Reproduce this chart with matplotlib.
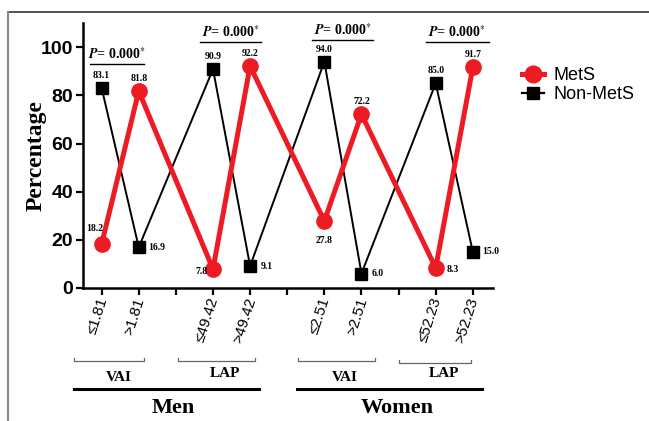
import matplotlib
matplotlib.use("Agg")
import matplotlib.pyplot as plt
import matplotlib.transforms as mtransforms
from matplotlib.lines import Line2D

# values
positions = [1, 2, 4, 5, 7, 8, 10, 11]
tick_labels = ["\u22641.81", ">1.81", "\u226449.42", ">49.42",
               "\u22642.51", ">2.51", "\u226452.23", ">52.23"]
mets = [18.2, 81.8, 7.8, 92.2, 27.8, 72.2, 8.3, 91.7]
non_mets = [83.1, 16.9, 90.9, 9.1, 94.0, 6.0, 85.0, 15.0]
p_labels = ["0.000", "0.000", "0.000", "0.000"]
index_names = ["VAI", "LAP", "VAI", "LAP"]
sex_names = ["Men", "Women"]

RED = "#ED1C24"
SERIF = "Liberation Serif"
SANS = "Liberation Sans"
plt.rcParams["mathtext.fontset"] = "stix"

fig = plt.figure(figsize=(6.49, 4.21), dpi=100)
ax = fig.add_axes([0.128, 0.316, 0.632, 0.629])

ax.plot(positions, non_mets, color="black", lw=1.4, marker="s", ms=9, zorder=3)
ax.plot(positions, mets, color=RED, lw=3.6, marker="o", ms=11, zorder=4)

ax.set_xlim(0.5, 11.55)
ax.set_ylim(0, 110)
ax.set_yticks([0, 20, 40, 60, 80, 100])
ax.set_xticks([1, 2, 3, 4, 5, 6, 7, 8, 9, 10, 11])
ax.set_xticklabels([])
for p, lab in zip(positions, tick_labels):
    ax.annotate(lab, xy=(p, 0), xycoords=("data", "axes fraction"),
                xytext=(1, -7), textcoords="offset points",
                rotation=72, rotation_mode="anchor", ha="right", va="center",
                fontsize=11, fontfamily=SANS)
for lab in ax.get_yticklabels():
    lab.set_fontfamily(SANS)
    lab.set_fontweight("bold")
    lab.set_fontsize(14)
ax.tick_params(direction="out", length=5, width=1.6, pad=2)
for s in ["top", "right"]:
    ax.spines[s].set_visible(False)
for s in ["left", "bottom"]:
    ax.spines[s].set_linewidth(1.8)
ax.set_ylabel("Percentage", fontfamily=SERIF, fontweight="bold", fontsize=17)
ax.yaxis.set_label_coords(-0.09, 0.5)

# value labels (offsets in points)
mets_off = [(-5, 11), (0, 9), (-8, -2), (0, 9), (0, -14), (0, 9), (12, -1), (0, 9)]
non_off = [(0, 9), (13, 0), (0, 9), (12, 0), (0, 9), (12, 0), (0, 9), (13, 0)]
for p, v, o in zip(positions, mets, mets_off):
    ax.annotate(f"{v:.1f}", (p, v), xytext=o, textcoords="offset points", zorder=6,
                ha="center", va="center", fontsize=7, fontweight="bold", fontfamily=SERIF)
for p, v, o in zip(positions, non_mets, non_off):
    ax.annotate(f"{v:.1f}", (p, v), xytext=o, textcoords="offset points", zorder=6,
                ha="center", va="center", fontsize=7, fontweight="bold", fontfamily=SERIF)

# P-value bars
p_spans = [(0.7, 2.13, 92.9), (3.65, 5.29, 102), (6.68, 8.32, 103), (9.74, 11.43, 102)]
for (x0, x1, y), pv in zip(p_spans, p_labels):
    ax.plot([x0, x1], [y, y], color="black", lw=1.0, clip_on=False)
    ax.text((x0 + x1) / 2, y + 0.8, r"$\mathbfit{P}$= " + pv + r"$^{*}$",
            ha="center", va="bottom", fontsize=10, fontweight="bold", fontfamily=SERIF)

# group annotations below the axis
tr = mtransforms.blended_transform_factory(ax.transData, fig.transFigure)
brackets = [(0.25, 2.15, 0.1425), (3.06, 5.13, 0.1425), (6.28, 8.37, 0.1425), (9.02, 10.95, 0.138)]
for (x0, x1, y) in brackets:
    ax.add_line(Line2D([x0, x0, x1, x1], [y + 0.008, y, y, y + 0.008], transform=tr,
                       color="#666666", lw=0.9, clip_on=False))
name_pos = [(1.46, 0.1045), (4.32, 0.112), (7.54, 0.1045), (10.22, 0.112)]
for (x, y), name in zip(name_pos, index_names):
    ax.text(x, y, name, transform=tr, ha="center", va="center",
            fontsize=11, fontweight="bold", fontfamily=SERIF)
for (x0, x1) in [(0.25, 5.24), (6.25, 11.24)]:
    ax.add_line(Line2D([x0, x1], [0.076, 0.076], transform=tr, color="black",
                       lw=2.2, clip_on=False))
for x, name in zip([2.93, 8.96], sex_names):
    ax.text(x, 0.031, name, transform=tr, ha="center", va="center",
            fontsize=16, fontweight="bold", fontfamily=SERIF)

# legend
handles = [Line2D([], [], color=RED, lw=3.6, marker="o", ms=12),
           Line2D([], [], color="black", lw=1.6, marker="s", ms=9)]
fig.legend(handles, ["MetS", "Non-MetS"], loc="upper left", bbox_to_anchor=(0.78, 0.879),
           frameon=False, handlelength=1.2, handletextpad=0.5, labelspacing=0.1,
           prop={"family": SANS, "size": 13})

# image frame (top and left border)
fig.add_artist(Line2D([8 / 649, 1], [1 - 12 / 421, 1 - 12 / 421], transform=fig.transFigure,
                      color="#333333", lw=1.2))
fig.add_artist(Line2D([8 / 649, 8 / 649], [0, 1 - 12 / 421], transform=fig.transFigure,
                      color="#888888", lw=1.5))

fig.savefig("out.png", dpi=100)
